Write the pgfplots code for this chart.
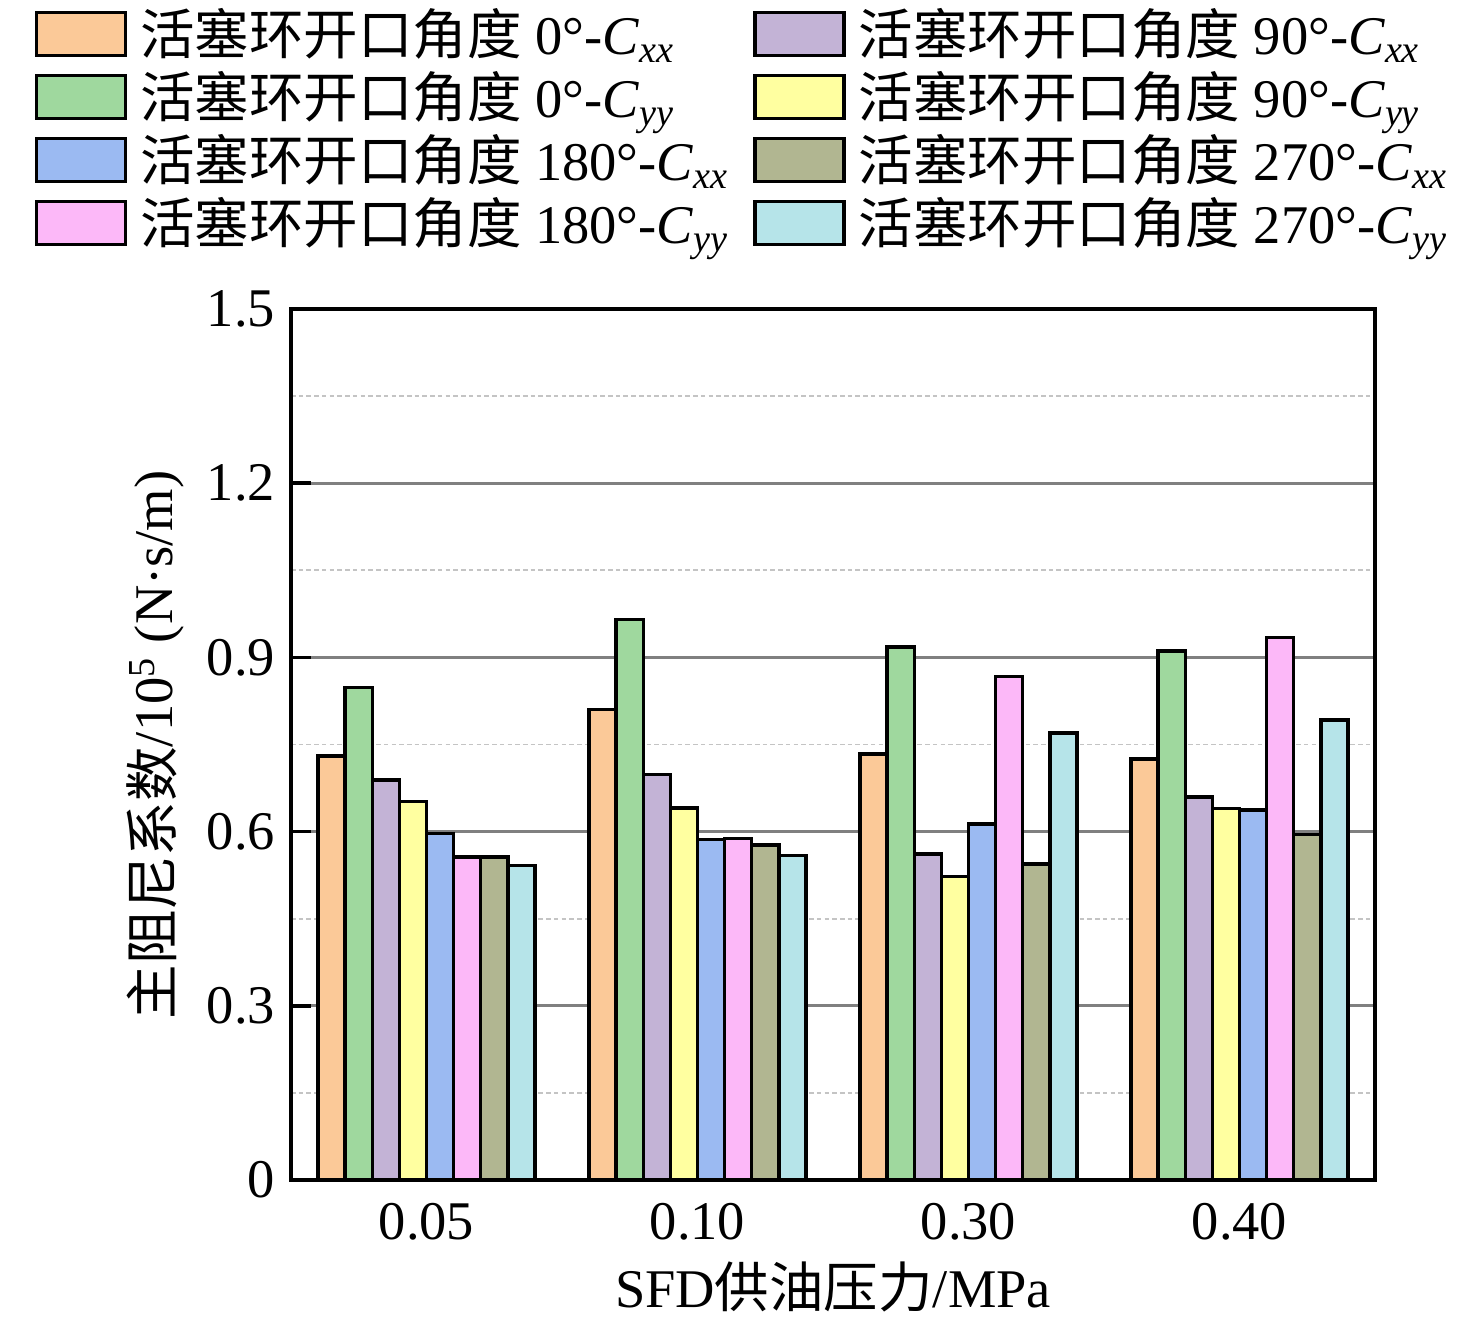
\documentclass[border=0pt]{standalone}
\usepackage{fontspec}
\setmainfont{Liberation Serif}
\newfontfamily\cjk{Noto Sans CJK SC}
\usepackage{pgfplots}
\pgfplotsset{compat=1.18}

\definecolor{c1}{HTML}{FBC998}
\definecolor{c2}{HTML}{9FD89E}
\definecolor{c3}{HTML}{C3B3D6}
\definecolor{c4}{HTML}{FFFFA0}
\definecolor{c5}{HTML}{9BBAF2}
\definecolor{c6}{HTML}{FCB8F8}
\definecolor{c7}{HTML}{B1B691}
\definecolor{c8}{HTML}{B6E4E9}
\definecolor{majg}{HTML}{808080}
\definecolor{ming}{HTML}{C4C4C4}

\newcommand{\fs}{\fontsize{15.5}{18}\selectfont}
\newcommand{\lab}[2]{\makebox[59.3mm][l]{{\cjk 活塞环开口角度} #1°-\textit{C}\textsubscript{\textit{#2}}}}

\pgfplotsset{mybar/.style={fill=#1, draw=black, line width=1.0pt,
  legend image code/.code={\draw[##1] (0mm,-2.15mm) rectangle (8.9mm,2.15mm);}}}

\begin{document}
\begin{tikzpicture}
\begin{axis}[
  scale only axis, width=108.4mm, height=87.1mm,
  ybar, bar width=0.1,
  xmin=-0.5, xmax=3.5, ymin=0, ymax=1.5,
  xtick={0,1,2,3}, xticklabels={0.05,0.10,0.30,0.40},
  ytick={0,0.3,0.6,0.9,1.2,1.5}, yticklabels={0,0.3,0.6,0.9,1.2,1.5},
  minor ytick={0.15,0.45,0.75,1.05,1.35},
  ymajorgrids, yminorgrids,
  major grid style={majg, line width=0.75pt},
  minor grid style={ming, line width=0.55pt, dash pattern=on 1.3pt off 0.9pt},
  axis line style={line width=1.0pt},
  tick align=inside,
  major tick length=2mm, minor tick length=0pt,
  ytick pos=left, xtick pos=bottom,
  y tick style={black, line width=1.0pt},
  x tick style={draw=none},
  /pgf/number format/assume math mode=true,
  tick label style={font=\fs},
  xticklabel style={yshift=-1.1mm},
  yticklabel style={xshift=-0.35mm},
  label style={font=\fs},
  xlabel={SFD{\cjk 供油压力}/MPa},
  xlabel style={at={(axis description cs:0.5,-0.1465)}, anchor=base},
  ylabel={{\cjk 主阻尼系数}/10\textsuperscript{5} (N·s/m)},
  ylabel style={at={(axis description cs:-0.1089,0.4994)}, anchor=base, rotate=0},
  legend style={at={(axis description cs:-0.2370,1.3473)}, anchor=north west,
    draw=none, fill=none, inner sep=0pt, legend columns=2, row sep=0.9mm,
    cells={anchor=west},
    nodes={inner sep=0pt, text height=4.75mm, text depth=0.65mm, font=\fs},
    /tikz/every odd column/.append style={column sep=1.3mm},
    /tikz/every even column/.append style={column sep=2.0mm}},
]
\addplot[mybar=c1, bar shift=-0.35, forget plot] coordinates {(0,0.730) (1,0.810) (2,0.734) (3,0.725)};
\addplot[mybar=c2, bar shift=-0.25, forget plot] coordinates {(0,0.848) (1,0.965) (2,0.918) (3,0.911)};
\addplot[mybar=c3, bar shift=-0.15, forget plot] coordinates {(0,0.689) (1,0.698) (2,0.561) (3,0.660)};
\addplot[mybar=c4, bar shift=-0.05, forget plot] coordinates {(0,0.652) (1,0.641) (2,0.523) (3,0.640)};
\addplot[mybar=c5, bar shift=0.05, forget plot] coordinates {(0,0.597) (1,0.586) (2,0.613) (3,0.637)};
\addplot[mybar=c6, bar shift=0.15, forget plot] coordinates {(0,0.556) (1,0.588) (2,0.867) (3,0.934)};
\addplot[mybar=c7, bar shift=0.25, forget plot] coordinates {(0,0.556) (1,0.577) (2,0.544) (3,0.595)};
\addplot[mybar=c8, bar shift=0.35, forget plot] coordinates {(0,0.542) (1,0.559) (2,0.770) (3,0.792)};

\addlegendimage{mybar=c1}\addlegendentry{\lab{0}{xx}}
\addlegendimage{mybar=c3}\addlegendentry{\lab{90}{xx}}
\addlegendimage{mybar=c2}\addlegendentry{\lab{0}{yy}}
\addlegendimage{mybar=c4}\addlegendentry{\lab{90}{yy}}
\addlegendimage{mybar=c5}\addlegendentry{\lab{180}{xx}}
\addlegendimage{mybar=c7}\addlegendentry{\lab{270}{xx}}
\addlegendimage{mybar=c6}\addlegendentry{\lab{180}{yy}}
\addlegendimage{mybar=c8}\addlegendentry{\lab{270}{yy}}
\end{axis}
\pgfresetboundingbox
\useasboundingbox ([xshift=-29.1mm,yshift=-14.3mm]current axis.south west) rectangle ++(147.6mm,132.3mm);
\end{tikzpicture}
\end{document}
